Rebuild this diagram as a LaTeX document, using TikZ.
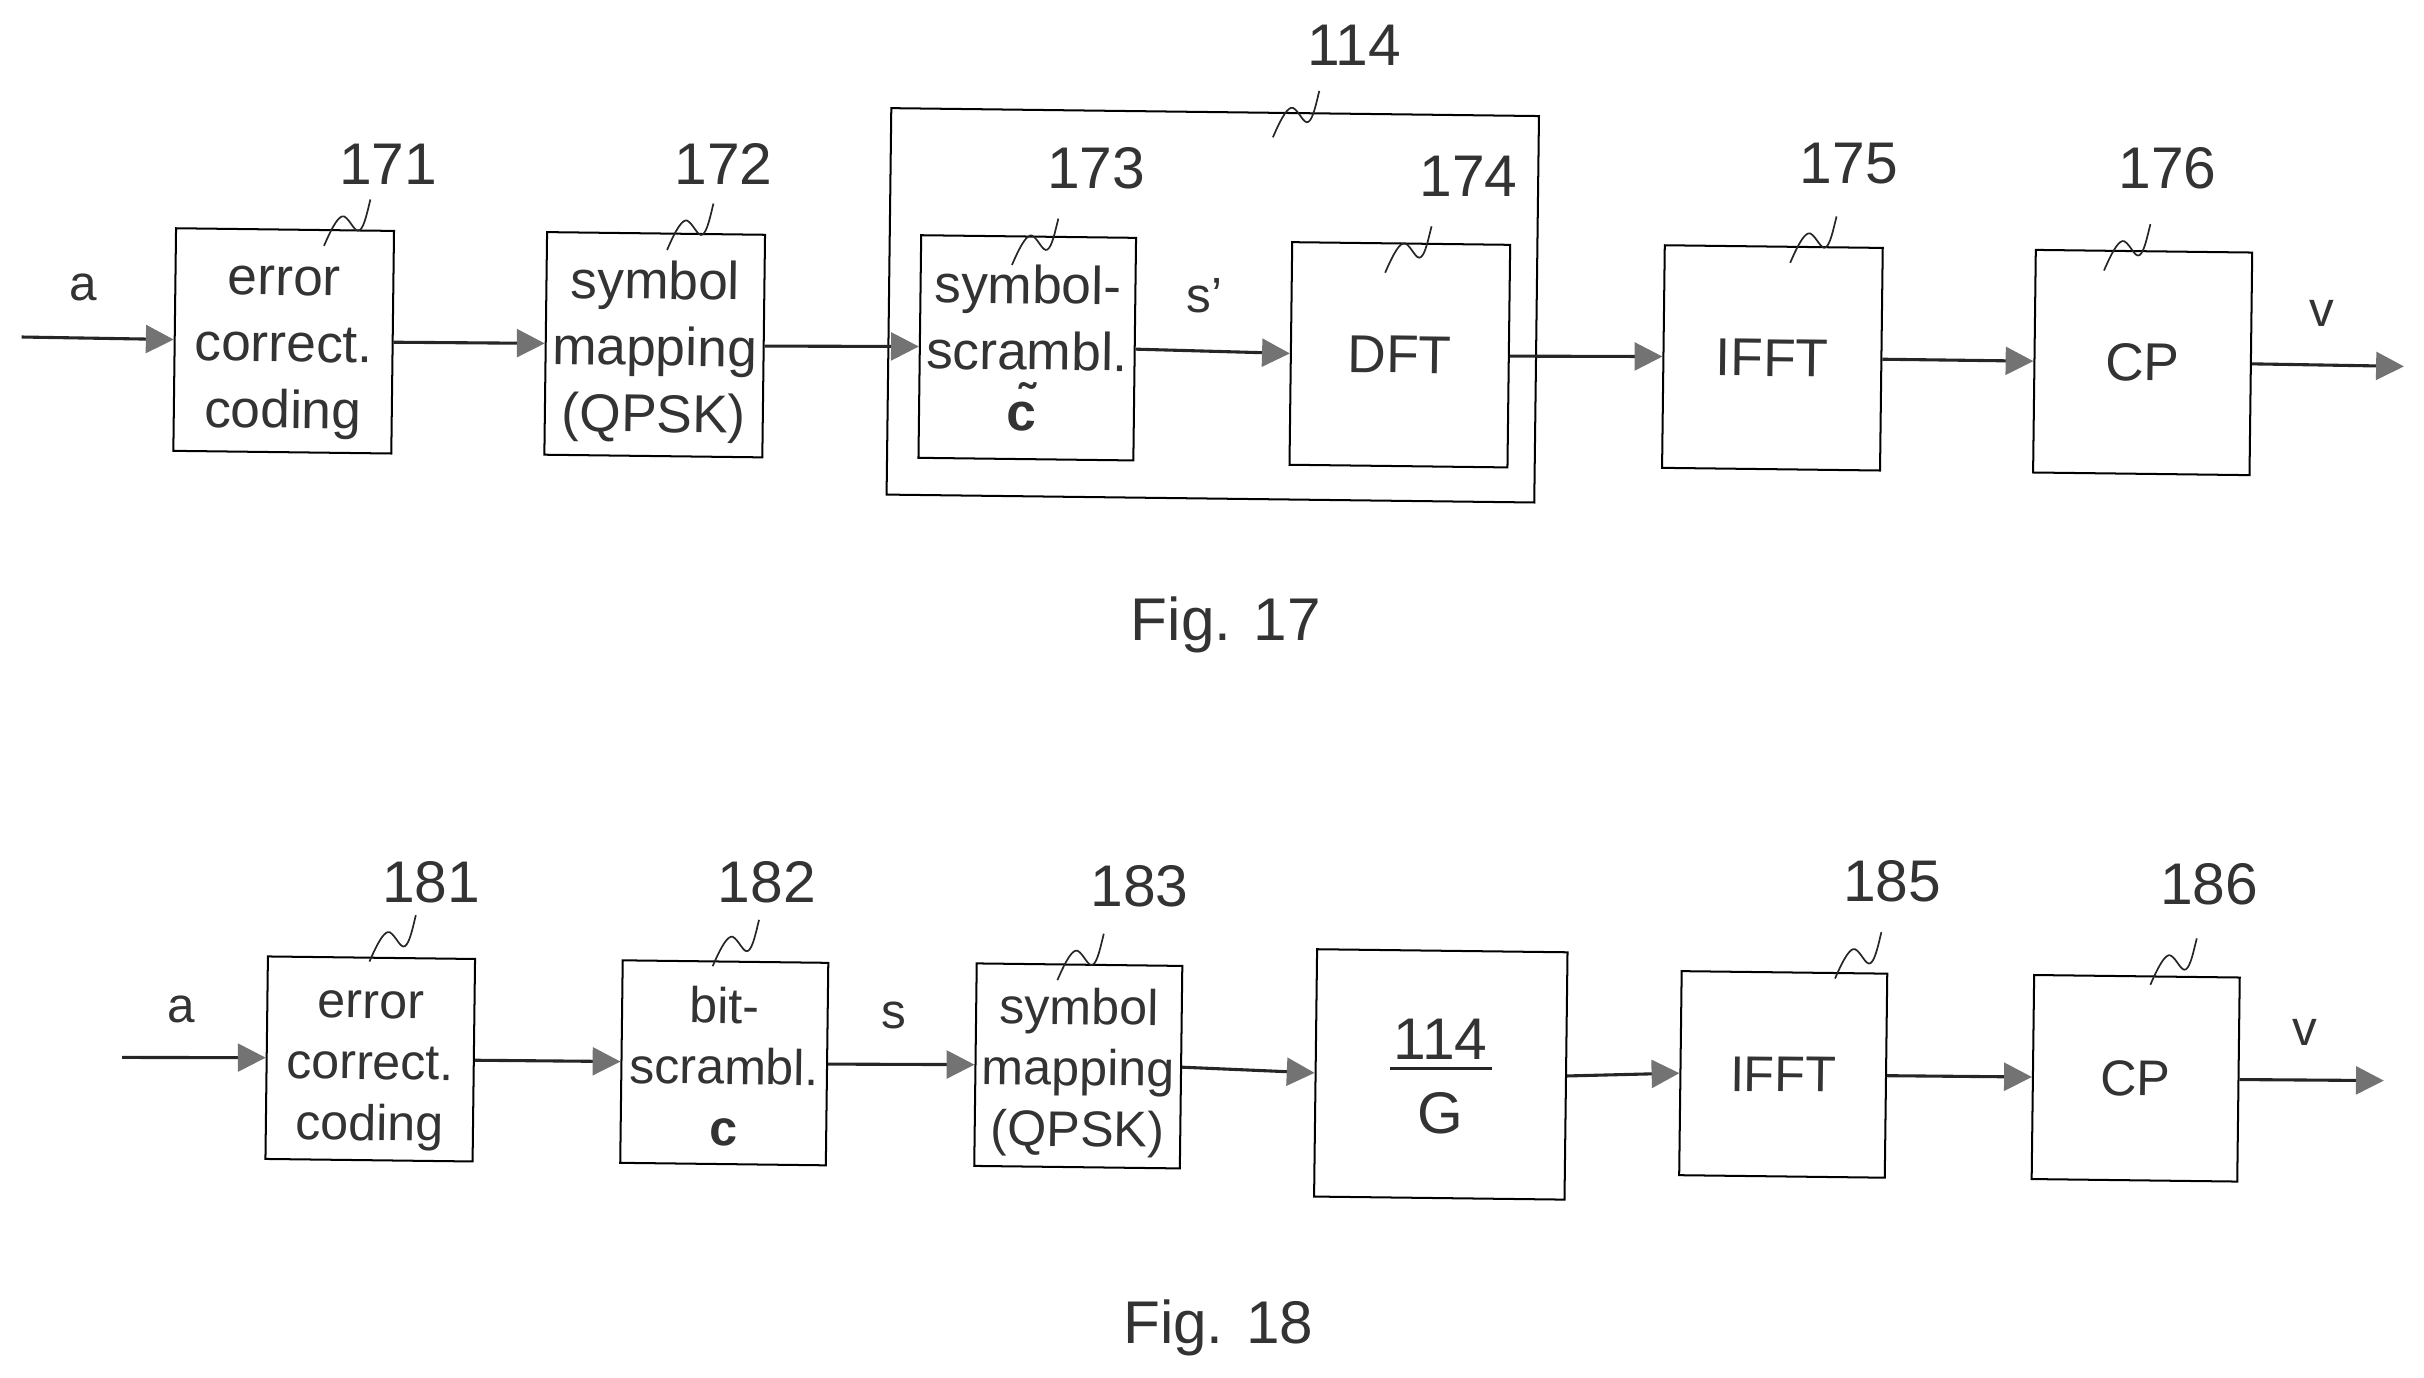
\documentclass[tikz,border=0pt]{standalone}
\usepackage{fontspec}
\setmainfont{Liberation Sans}
\usetikzlibrary{arrows.meta}
\definecolor{ink}{gray}{0.2}
\newcommand{\leadermark}[2]{\draw[leaderline,shift={(#1,#2)}] (0,0) .. controls (6,-14) and (10,-20) .. (13,-19) .. controls (17,-17) and (20,-8) .. (23,-10) .. controls (26,-12) and (28,-22) .. (30,-30);}
\newcommand{\toppad}[1]{\rule{0pt}{#1}}
\tikzset{
  blockbox/.style={draw=black,line width=1.3pt,fill=none,inner sep=0pt,rotate=-0.7,align=center,text=ink,minimum width=#1},
  topbox/.style={blockbox=141pt,minimum height=144pt,font=\fontsize{34.5}{43}\selectfont},
  lowbox/.style={blockbox=133pt,minimum height=131pt,font=\fontsize{32.5}{39.5}\selectfont},
  flow/.style={line width=2pt,draw=black!85,-{Triangle[length=18pt,width=18pt,fill=black!55,color=black!55]},shorten >=0pt},
  numlabel/.style={inner sep=0pt,text=ink,font=\fontsize{38}{40}\selectfont},
  siglabel/.style={inner sep=0pt,text=ink,font=\fontsize{32}{34}\selectfont},
  caption/.style={inner sep=0pt,text=ink,font=\fontsize{39}{41}\selectfont},
  leaderline/.style={line width=1.1pt,draw=black!85},
}
\begin{document}
\begin{tikzpicture}[x=1pt,y=-1pt]
\useasboundingbox (0,0) rectangle (1568,890.75);
% Fig. 17
\node[blockbox=419pt,minimum height=250pt] (outer) at (784.5,197.5) {};
\node[topbox] (b171) at (183.5,220.5) {\toppad{34pt}error\\correct.\\coding};
\node[topbox] (b172) at (423.5,223) {\toppad{34pt}symbol\\mapping\\(QPSK)};
\node[topbox,minimum width=139pt] (b173) at (664.5,225) {symbol-\\scrambl.\\[-4pt]\hspace*{-6pt}\textbf{\~{c}}};
\node[topbox] (b174) at (905.5,229.5) {DFT};
\node[topbox] (b175) at (1146.5,231.5) {IFFT};
\node[topbox,minimum width=140pt] (b176) at (1386,234.5) {CP};
\coordinate (in17) at (14,218);
\coordinate (out17) at (1555,237);
\draw[flow] (in17) -- (b171.west);
\draw[flow] (b171.east) -- (b172.west);
\draw[flow] (b172.east) -- (b173.west);
\draw[flow] (b173.east) -- (b174.west);
\draw[flow] (b174.east) -- (b175.west);
\draw[flow] (b175.east) -- (b176.west);
\draw[flow] (b176.east) -- (out17);
\node[siglabel] (sa17) at (54,186) {a};
\node[siglabel] (ss17) at (779,191) {s’};
\node[siglabel] (sv17) at (1502,203) {v};
\node[numlabel] (n171) at (251,106) {171};
\node[numlabel] (n172) at (468,106) {172};
\node[numlabel] (n114) at (876,29) {114};
\node[numlabel] (n173) at (709,109) {173};
\node[numlabel] (n174) at (950,114) {174};
\node[numlabel] (n175) at (1196,106) {175};
\node[numlabel] (n176) at (1402,109) {176};
\leadermark{209.6}{159}
\leadermark{431.5}{161.7}
\leadermark{654.6}{171.4}
\leadermark{896}{176.4}
\leadermark{823.4}{88.8}
\leadermark{1158}{170}
\leadermark{1361}{175}
\node[caption] (f17) at (793,404) {Fig. 17};
% Fig. 18
\node[lowbox,minimum width=134pt] (b181) at (239.5,685) {\toppad{33pt}error\\correct.\\coding};
\node[lowbox] (b182) at (468.5,687.5) {\toppad{28pt}bit-\\scrambl.\\\textbf{c}};
\node[lowbox] (b183) at (697.5,689.5) {\toppad{32pt}symbol\\mapping\\(QPSK)};
\node[lowbox,minimum width=162pt,minimum height=160pt] (bG) at (932,695) {};
\node[lowbox,minimum height=132pt] (b185) at (1153.5,695) {IFFT};
\node[lowbox,minimum height=132pt] (b186) at (1381.5,697.5) {CP};
\node[numlabel] (g114) at (932,672) {114};
\node[numlabel] (gG) at (932,720) {G};
\coordinate (barL) at (899,691);
\coordinate (barR) at (965,691);
\draw[line width=2pt,draw=black!85] (barL) -- (barR);
\coordinate (in18) at (79,684);
\coordinate (out18) at (1542,699);
\draw[flow] (in18) -- (b181.west);
\draw[flow] (b181.east) -- (b182.west);
\draw[flow] (b182.east) -- (b183.west);
\draw[flow] (b183.east) -- (bG.west);
\draw[flow] (bG.east) -- (b185.west);
\draw[flow] (b185.east) -- (b186.west);
\draw[flow] (b186.east) -- (out18);
\node[siglabel] (sa18) at (117,653) {a};
\node[siglabel] (ss18) at (578,657) {s};
\node[siglabel] (sv18) at (1491,668) {v};
\node[numlabel] (n181) at (279,571) {181};
\node[numlabel] (n182) at (496,571) {182};
\node[numlabel] (n183) at (737,573) {183};
\node[numlabel] (n185) at (1224,570) {185};
\node[numlabel] (n186) at (1429,572) {186};
\leadermark{239}{622}
\leadermark{461}{625}
\leadermark{684}{634}
\leadermark{1187}{633}
\leadermark{1391}{637}
\node[caption] (f18) at (788,859) {Fig. 18};
\end{tikzpicture}
\end{document}
